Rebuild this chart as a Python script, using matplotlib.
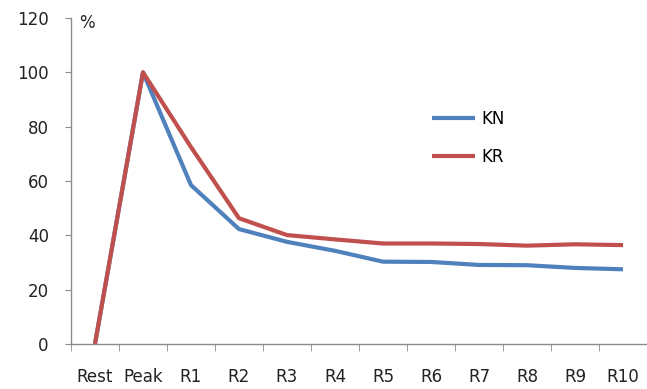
import numpy as np
import matplotlib.pyplot as plt

categories = ["Rest", "Peak", "R1", "R2", "R3", "R4", "R5", "R6", "R7", "R8", "R9", "R10"]
kn = [0, 100, 58.5, 42.3, 37.6, 34.3, 30.3, 30.2, 29.1, 29.0, 28.0, 27.5]
kr = [0, 100, 72.5, 46.3, 40.1, 38.5, 37.0, 37.0, 36.8, 36.2, 36.7, 36.4]

blue = "#4F81BD"
red = "#C0504D"
axis_grey = "#8C8C8C"
txt = "#222222"

fig = plt.figure(figsize=(6.47, 3.89), dpi=100)
ax = fig.add_axes([0.1097, 0.1157, 0.8903, 0.838])

x = np.arange(len(categories))
ax.plot(x, kn, color=blue, lw=3.0, label="KN", solid_capstyle="butt")
ax.plot(x, kr, color=red, lw=3.0, label="KR", solid_capstyle="butt")

ax.set_xlim(-0.5, len(categories) - 0.5)
ax.set_ylim(0, 120)
ax.set_yticks(np.arange(0, 121, 20))

# labels centred on categories, tick marks between them
ax.set_xticks(x)
ax.set_xticklabels(categories)
ax.set_xticks(np.arange(-0.5, len(categories)), minor=True)
ax.tick_params(axis="x", which="major", length=0, pad=17, labelsize=12, labelcolor=txt)
ax.tick_params(axis="x", which="minor", length=5, direction="out", color=axis_grey)
ax.tick_params(axis="y", length=4, direction="out", color=axis_grey, pad=12,
               labelsize=12, labelcolor=txt)

for s in ["top", "right"]:
    ax.spines[s].set_visible(False)
for s in ["left", "bottom"]:
    ax.spines[s].set_color(axis_grey)
    ax.spines[s].set_linewidth(1.0)

ax.text(0.015, 0.985, "%", transform=ax.transAxes, fontsize=12, color=txt, va="center")

ax.legend(loc="upper left", bbox_to_anchor=(0.6, 0.765), frameon=False,
          handlelength=2.6, handletextpad=0.4, labelspacing=1.2, fontsize=12)

fig.savefig("out.png", dpi=100)
